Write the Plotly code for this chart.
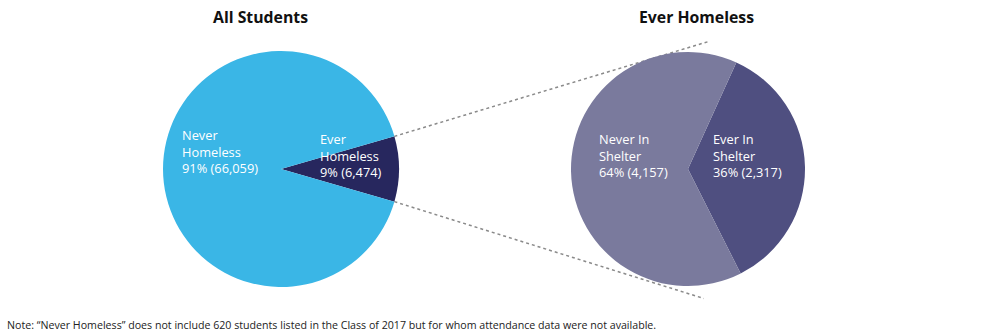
import math
import plotly.graph_objects as go

W, H = 991, 335

# ---- data ----
left_title = "All Students"
left_labels = ["Ever<br>Homeless", "Never<br>Homeless"]
left_values = [6474, 66059]
left_pct = ["9%", "91%"]
left_colors = ["#27275E", "#3AB6E6"]

right_title = "Ever Homeless"
right_labels = ["Ever In<br>Shelter", "Never In<br>Shelter"]
right_values = [2317, 4157]
right_pct = ["36%", "64%"]
right_colors = ["#4F4F80", "#7A7A9D"]

note = ("Note: \u201cNever Homeless\u201d does not include 620 students listed in the Class of 2017 "
        "but for whom attendance data were not available.")

FONT = "Open Sans"

# ---- geometry (pixels) ----
Lc, Lr = (281, 169), 118
Rc, Rr = (688, 169), 117


def px2paper(x, y):
    return x / W, 1 - y / H


def domain(c, r):
    return dict(x=[(c[0] - r) / W, (c[0] + r) / W],
                y=[1 - (c[1] + r) / H, 1 - (c[1] - r) / H])


left_span = 360 * left_values[0] / sum(left_values)
left_rot = 90 - left_span / 2
right_rot = 24.4

fig = go.Figure()
fig.add_trace(go.Pie(values=left_values, labels=["Ever Homeless", "Never Homeless"],
                     marker=dict(colors=left_colors, line=dict(width=0)),
                     sort=False, direction="clockwise", rotation=left_rot,
                     textinfo="none", hoverinfo="label+value", domain=domain(Lc, Lr),
                     showlegend=False))
fig.add_trace(go.Pie(values=right_values, labels=["Ever In Shelter", "Never In Shelter"],
                     marker=dict(colors=right_colors, line=dict(width=0)),
                     sort=False, direction="clockwise", rotation=right_rot,
                     textinfo="none", hoverinfo="label+value", domain=domain(Rc, Rr),
                     showlegend=False))

# connector dotted lines from slice edges of left pie
def on_circle(c, r, ang):
    a = math.radians(ang)
    return c[0] + r * math.sin(a), c[1] - r * math.cos(a)

starts = [on_circle(Lc, Lr, left_rot), on_circle(Lc, Lr, left_rot + left_span)]
ends = [on_circle(Rc, Rr * 1.105, 9.3), on_circle(Rc, Rr * 1.115, 173)]
for s, e in zip(starts, ends):
    x0, y0 = px2paper(*s)
    x1, y1 = px2paper(*e)
    fig.add_shape(type="line", xref="paper", yref="paper", x0=x0, y0=y0, x1=x1, y1=y1,
                  line=dict(color="#8a8a8a", width=1.5, dash="dot"), layer="below")

def fmt(v):
    return f"{v:,}"

label_pos = [
    (left_labels[0], left_pct[0], left_values[0], 318, 155),
    (left_labels[1], left_pct[1], left_values[1], 180, 151),
    (right_labels[0], right_pct[0], right_values[0], 711, 155),
    (right_labels[1], right_pct[1], right_values[1], 597, 155),
]
for lab, pct, v, x, y in label_pos:
    px, py = px2paper(x, y)
    fig.add_annotation(text=f"{lab}<br>{pct} ({fmt(v)})", x=px, y=py, xref="paper", yref="paper",
                       xanchor="left", yanchor="middle", align="left", showarrow=False,
                       font=dict(family=FONT, size=12.8, color="white"))

for t, x in [(left_title, 260), (right_title, 696)]:
    px, py = px2paper(x, 17)
    fig.add_annotation(text=f"<b>{t}</b>", x=px, y=py, xref="paper", yref="paper",
                       xanchor="center", yanchor="middle", showarrow=False,
                       font=dict(family=FONT, size=15.8, color="#111"))

px, py = px2paper(5, 325)
fig.add_annotation(text=note, x=px, y=py, xref="paper", yref="paper", xanchor="left",
                   yanchor="middle", showarrow=False, font=dict(family=FONT, size=10.65, color="#222"))

fig.update_layout(width=W, height=H, margin=dict(l=0, r=0, t=0, b=0),
                  paper_bgcolor="white", plot_bgcolor="white")
fig.write_html("out.html")
